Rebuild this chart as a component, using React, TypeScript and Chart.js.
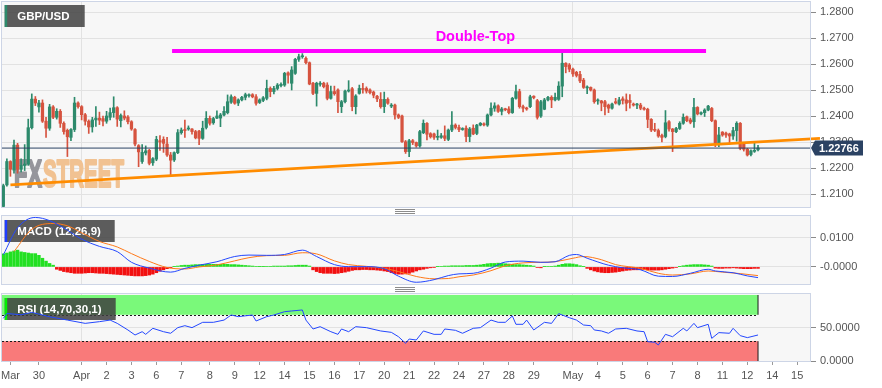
import React, { useEffect, useRef } from 'react';
import { Chart, registerables } from 'chart.js';

Chart.register(...registerables);

// ---------- DATA ----------
const pairLabel = 'GBP/USD';
const macdLabel = 'MACD (12,26,9)';
const rsiLabel = 'RSI (14,70,30,1)';

const opens = [
  1.2052,1.2135,1.2225,1.2192,1.2288,1.2195,1.2210,1.2215,1.2355,1.2465,
  1.2435,1.2450,1.2380,1.2353,1.2435,1.2395,1.2418,1.2372,1.2345,1.2318,
  1.2348,1.2450,1.2436,1.2405,1.2380,1.2358,1.2385,1.2392,1.2390,1.2380,
  1.2395,1.2413,1.2432,1.2382,1.2400,1.2396,1.2378,1.2348,1.2286,1.2225,
  1.2258,1.2268,1.2220,1.2234,1.2305,1.2310,1.2292,1.2250,1.2231,1.2259,
  1.2336,1.2348,1.2350,1.2350,1.2340,1.2342,1.2314,1.2356,1.2391,1.2374,
  1.2392,1.2392,1.2404,1.2413,1.2453,1.2472,1.2450,1.2462,1.2472,1.2478,
  1.2482,1.2474,1.2452,1.2460,1.2468,1.2506,1.2494,1.2506,1.2517,1.2519,
  1.2566,1.2526,1.2564,1.2618,1.2628,1.2622,1.2605,1.2526,1.2487,1.2522,
  1.2526,1.2519,1.2468,1.2494,1.2500,1.2436,1.2455,1.2496,1.2505,1.2436,
  1.2487,1.2506,1.2506,1.2500,1.2492,1.2476,1.2464,1.2436,1.2464,1.2438,
  1.2442,1.2404,1.2400,1.2301,1.2263,1.2305,1.2298,1.2285,1.2336,1.2372,
  1.2332,1.2331,1.2318,1.2318,1.2324,1.2310,1.2346,1.2365,1.2356,1.2348,
  1.2353,1.2321,1.2353,1.2333,1.2365,1.2370,1.2365,1.2404,1.2430,1.2439,
  1.2418,1.2428,1.2427,1.2413,1.2468,1.2494,1.2436,1.2430,1.2436,1.2476,
  1.2459,1.2400,1.2426,1.2462,1.2472,1.2462,1.2464,1.2515,1.2603,1.2596,
  1.2580,1.2568,1.2560,1.2538,1.2508,1.2510,1.2500,1.2458,1.2458,1.2455,
  1.2442,1.2430,1.2455,1.2446,1.2466,1.2462,1.2460,1.2446,1.2442,1.2442,
  1.2430,1.2426,1.2387,1.2348,1.2344,1.2325,1.2321,1.2378,1.2350,1.2340,
  1.2352,1.2372,1.2397,1.2385,1.2378,1.2433,1.2408,1.2413,1.2423,1.2429,
  1.2382,1.2295,1.2338,1.2334,1.2331,1.2323,1.2344,1.2372,1.2295,1.2272,
  1.2252,1.2264,1.2270,
];
const highs = [
  1.2138,1.2235,1.2228,1.2307,1.2295,1.2235,1.2290,1.2388,1.2485,1.2475,
  1.2460,1.2462,1.2395,1.2445,1.2440,1.2428,1.2425,1.2378,1.2350,1.2352,
  1.2472,1.2455,1.2440,1.2410,1.2385,1.2395,1.2436,1.2415,1.2400,1.2418,
  1.2430,1.2474,1.2436,1.2408,1.2420,1.2402,1.2382,1.2352,1.2290,1.2290,
  1.2285,1.2272,1.2240,1.2322,1.2325,1.2320,1.2318,1.2260,1.2262,1.2348,
  1.2354,1.2384,1.2362,1.2352,1.2345,1.2345,1.2380,1.2417,1.2400,1.2395,
  1.2420,1.2410,1.2436,1.2481,1.2481,1.2476,1.2466,1.2476,1.2488,1.2485,
  1.2486,1.2482,1.2466,1.2475,1.2538,1.2512,1.2514,1.2525,1.2528,1.2568,
  1.2570,1.2590,1.2622,1.2638,1.2640,1.2628,1.2608,1.2530,1.2530,1.2532,
  1.2530,1.2528,1.2515,1.2515,1.2505,1.2460,1.2500,1.2536,1.2510,1.2482,
  1.2519,1.2526,1.2512,1.2505,1.2496,1.2480,1.2490,1.2492,1.2470,1.2448,
  1.2446,1.2408,1.2404,1.2306,1.2310,1.2310,1.2300,1.2345,1.2385,1.2375,
  1.2336,1.2334,1.2346,1.2333,1.2362,1.2350,1.2417,1.2370,1.2365,1.2355,
  1.2362,1.2356,1.2366,1.2368,1.2375,1.2374,1.2408,1.2451,1.2451,1.2443,
  1.2433,1.2430,1.2436,1.2472,1.2519,1.2503,1.2442,1.2434,1.2480,1.2478,
  1.2464,1.2460,1.2468,1.2476,1.2478,1.2488,1.2532,1.2641,1.2605,1.2602,
  1.2584,1.2572,1.2572,1.2545,1.2516,1.2512,1.2504,1.2466,1.2460,1.2460,
  1.2446,1.2450,1.2468,1.2472,1.2474,1.2485,1.2482,1.2450,1.2449,1.2449,
  1.2434,1.2430,1.2390,1.2372,1.2350,1.2330,1.2421,1.2382,1.2352,1.2356,
  1.2378,1.2408,1.2400,1.2392,1.2468,1.2436,1.2416,1.2428,1.2441,1.2433,
  1.2385,1.2356,1.2340,1.2338,1.2334,1.2356,1.2378,1.2375,1.2298,1.2276,
  1.2270,1.2295,1.2287,
];
const lows = [
  1.2048,1.2130,1.2168,1.2180,1.2180,1.2185,1.2190,1.2210,1.2350,1.2440,
  1.2415,1.2375,1.2318,1.2345,1.2390,1.2388,1.2356,1.2330,1.2244,1.2305,
  1.2340,1.2430,1.2385,1.2365,1.2333,1.2338,1.2360,1.2367,1.2362,1.2372,
  1.2385,1.2395,1.2360,1.2358,1.2385,1.2370,1.2345,1.2285,1.2205,1.2218,
  1.2250,1.2212,1.2210,1.2228,1.2268,1.2260,1.2245,1.2167,1.2225,1.2255,
  1.2330,1.2318,1.2345,1.2330,1.2312,1.2290,1.2310,1.2350,1.2365,1.2368,
  1.2390,1.2359,1.2400,1.2408,1.2448,1.2445,1.2440,1.2458,1.2462,1.2472,
  1.2470,1.2442,1.2448,1.2455,1.2462,1.2474,1.2485,1.2500,1.2512,1.2514,
  1.2526,1.2500,1.2560,1.2610,1.2622,1.2600,1.2520,1.2482,1.2438,1.2515,
  1.2508,1.2462,1.2465,1.2480,1.2413,1.2413,1.2450,1.2492,1.2420,1.2408,
  1.2484,1.2488,1.2488,1.2485,1.2470,1.2455,1.2430,1.2413,1.2445,1.2432,
  1.2388,1.2390,1.2298,1.2256,1.2244,1.2290,1.2280,1.2280,1.2332,1.2308,
  1.2315,1.2310,1.2308,1.2314,1.2305,1.2305,1.2340,1.2350,1.2340,1.2345,
  1.2301,1.2301,1.2328,1.2328,1.2362,1.2362,1.2360,1.2400,1.2418,1.2414,
  1.2404,1.2420,1.2408,1.2410,1.2465,1.2430,1.2416,1.2422,1.2432,1.2466,
  1.2388,1.2395,1.2424,1.2458,1.2432,1.2458,1.2460,1.2474,1.2566,1.2570,
  1.2552,1.2550,1.2528,1.2506,1.2486,1.2496,1.2449,1.2445,1.2420,1.2404,
  1.2413,1.2426,1.2446,1.2442,1.2446,1.2420,1.2430,1.2438,1.2428,1.2424,
  1.2422,1.2355,1.2340,1.2340,1.2318,1.2300,1.2316,1.2342,1.2263,1.2336,
  1.2348,1.2368,1.2378,1.2370,1.2356,1.2404,1.2404,1.2398,1.2420,1.2378,
  1.2282,1.2282,1.2322,1.2318,1.2291,1.2310,1.2303,1.2270,1.2265,1.2246,
  1.2246,1.2260,1.2266,
];
const closes = [
  1.2132,1.2225,1.2195,1.2288,1.2195,1.2210,1.2215,1.2355,1.2465,1.2450,
  1.2450,1.2380,1.2353,1.2435,1.2395,1.2418,1.2372,1.2340,1.2320,1.2348,
  1.2450,1.2436,1.2405,1.2380,1.2358,1.2385,1.2392,1.2384,1.2380,1.2400,
  1.2413,1.2432,1.2388,1.2402,1.2392,1.2378,1.2350,1.2292,1.2262,1.2260,
  1.2266,1.2218,1.2236,1.2310,1.2300,1.2295,1.2250,1.2230,1.2259,1.2336,
  1.2346,1.2344,1.2352,1.2340,1.2316,1.2314,1.2353,1.2391,1.2372,1.2390,
  1.2400,1.2404,1.2418,1.2455,1.2474,1.2449,1.2462,1.2472,1.2482,1.2480,
  1.2474,1.2449,1.2462,1.2470,1.2506,1.2494,1.2506,1.2519,1.2522,1.2564,
  1.2557,1.2577,1.2618,1.2628,1.2630,1.2605,1.2523,1.2487,1.2526,1.2526,
  1.2513,1.2468,1.2494,1.2486,1.2455,1.2455,1.2496,1.2500,1.2436,1.2477,
  1.2506,1.2502,1.2496,1.2490,1.2480,1.2466,1.2436,1.2464,1.2449,1.2442,
  1.2404,1.2395,1.2301,1.2263,1.2305,1.2298,1.2285,1.2340,1.2372,1.2330,
  1.2320,1.2318,1.2320,1.2324,1.2314,1.2346,1.2365,1.2356,1.2348,1.2350,
  1.2321,1.2350,1.2331,1.2365,1.2372,1.2366,1.2404,1.2430,1.2439,1.2418,
  1.2427,1.2424,1.2413,1.2468,1.2494,1.2436,1.2430,1.2427,1.2474,1.2471,
  1.2395,1.2455,1.2462,1.2472,1.2462,1.2472,1.2515,1.2603,1.2590,1.2580,
  1.2562,1.2556,1.2535,1.2510,1.2512,1.2500,1.2455,1.2460,1.2450,1.2436,
  1.2430,1.2446,1.2450,1.2462,1.2460,1.2449,1.2452,1.2442,1.2446,1.2430,
  1.2426,1.2387,1.2346,1.2345,1.2323,1.2318,1.2374,1.2350,1.2340,1.2352,
  1.2372,1.2395,1.2382,1.2376,1.2433,1.2408,1.2413,1.2423,1.2438,1.2382,
  1.2295,1.2327,1.2327,1.2327,1.2323,1.2344,1.2372,1.2276,1.2272,1.2250,
  1.2266,1.2268,1.2277,
];

const lastPrice = 1.22766;

// x-axis day labels and the candle index each one sits at
const tickIdx = [2,10,22,29,36,43,50,58,65,72,79,86,93,100,107,114,121,128,135,142,149,160,167,174,181,188,195,202,209,216,223];
const tickLabels = ['Mar','30','Apr','2','3','6','7','8','9','12','14','15','16','17','20','21','22','24','27','28','29','May','4','5','6','7','8','11','12','14','15'];

const priceTicks = [1.21,1.22,1.23,1.24,1.25,1.26,1.27,1.28];
const macdTicks = [0, 0.01];
const macdTickLabels = ['-0.0000', '0.0100'];
const rsiTicks = [0, 50];
const rsiTickLabels = ['0.0000', '50.0000'];

// annotations
const trendIdx = [2, 229.4];
const trendVals = [1.2135, 1.2314];
const doubleTopIdx = [47.4, 197.4];
const doubleTopVals = [1.265, 1.265];
const doubleTopText = 'Double-Top';
const doubleTopTextIdx = 132.6;
const doubleTopTextPrice = 1.2689;

// MACD histogram, one bar per candle
const histVals = [
  0.0045,0.0048,0.0052,0.0055,0.0058,0.0052,0.0050,0.0048,0.0046,0.0046,0.0040,0.0030,0.0020,0.0012,0.0006,
  -0.0008,-0.0012,-0.0016,
  -0.0018,-0.0020,-0.0022,-0.0022,-0.0022,-0.0021,-0.0020,-0.0020,-0.0021,-0.0022,-0.0022,-0.0023,-0.0024,-0.0025,-0.0026,-0.0027,-0.0028,
  -0.0029,-0.0030,-0.0031,-0.0031,-0.0031,-0.0030,-0.0028,-0.0025,
  -0.0020,-0.0015,-0.0010,-0.0006,-0.0003,0.0001,0.0003,
  0.0005,0.0006,0.0006,0.0007,0.0008,0.0008,0.0009,0.0009,0.0009,0.0009,0.0009,0.0009,0.0009,0.0009,0.0008,0.0008,0.0007,0.0006,0.0005,0.0004,0.0003,
  0.0002,0.0001,0.0001,0.0002,0.0002,0.0003,0.0003,0.0003,0.0003,0.0004,0.0004,0.0005,0.0006,0.0006,0.0006,0.0003,
  -0.0010,-0.0016,-0.0020,-0.0022,-0.0022,-0.0022,-0.0023,-0.0022,-0.0020,-0.0018,-0.0015,-0.0012,
  -0.0010,-0.0010,-0.0009,-0.0009,-0.0010,-0.0010,-0.0011,-0.0012,-0.0014,-0.0016,
  -0.0020,-0.0023,-0.0025,-0.0025,-0.0024,-0.0022,-0.0018,-0.0014,-0.0010,
  -0.0008,-0.0005,-0.0003,-0.0001,0.0001,0.0002,
  0.0003,0.0003,0.0004,0.0004,0.0004,0.0004,0.0005,0.0005,0.0005,0.0006,0.0007,0.0009,
  0.0011,0.0012,0.0012,0.0013,0.0012,0.0011,0.0010,
  0.0009,0.0008,0.0008,0.0007,0.0006,0.0005,0.0003,
  -0.0002,-0.0003,
  0.0001,0.0002,0.0002,0.0003,
  0.0006,0.0009,0.0011,0.0011,0.0010,0.0008,
  0.0004,0.0001,
  -0.0005,-0.0010,-0.0014,-0.0017,-0.0019,-0.0020,-0.0020,-0.0019,-0.0018,-0.0016,-0.0014,-0.0012,
  -0.0011,-0.0010,-0.0010,-0.0009,-0.0009,-0.0010,-0.0011,-0.0011,-0.0011,-0.0010,-0.0008,-0.0006,-0.0004,-0.0002,0.0001,
  0.0004,0.0006,0.0007,0.0008,0.0008,0.0008,0.0007,0.0006,0.0003,
  -0.0004,-0.0005,-0.0005,-0.0004,-0.0004,-0.0003,-0.0004,-0.0005,-0.0006,-0.0006,-0.0006,-0.0005,-0.0005,
];

const macdIdx = [0,4,9,13,18,22,27,32,36,41,47,51,55,60,65,69,74,79,84,88,93,97,102,107,111,116,121,125,128,132,137,141,146,151,155,159,161,164,170,174,179,184,188,193,198,200,205,209,212];
const macdVals = [0.0042,0.0135,0.0171,0.0160,0.0127,0.0096,0.0071,0.0053,0.0016,-0.0004,-0.0018,-0.0005,0.0006,0.0018,0.0036,0.0041,0.0040,0.0043,0.0058,0.0036,0.0008,0.0001,0.0001,-0.0006,-0.0032,-0.0053,-0.0044,-0.0030,-0.0024,-0.0022,-0.0004,0.0017,0.0020,0.0016,0.0018,0.0040,0.0043,0.0030,0.0006,-0.0003,-0.0010,-0.0032,-0.0033,-0.0022,-0.0008,-0.0014,-0.0020,-0.0031,-0.0037];

const signalIdx = [3,8,14,18,22,27,32,36,41,46,51,55,60,65,69,74,79,84,88,93,97,102,107,111,116,121,125,128,132,137,141,146,151,155,160,163,168,172,179,184,188,193,198,202,207,212];
const signalVals = [0.0053,0.0130,0.0150,0.0142,0.0118,0.0088,0.0069,0.0046,0.0019,-0.0002,-0.0007,0.0000,0.0007,0.0021,0.0032,0.0039,0.0040,0.0049,0.0045,0.0021,0.0008,0.0002,-0.0005,-0.0016,-0.0033,-0.0041,-0.0040,-0.0034,-0.0028,-0.0013,0.0004,0.0014,0.0016,0.0018,0.0030,0.0036,0.0025,0.0008,-0.0005,-0.0022,-0.0028,-0.0024,-0.0014,-0.0018,-0.0023,-0.0030];

const rsiIdx = [0,1,5,8,13,18,23,27,30,32,35,37,39,40,42,45,47,49,51,53,56,59,62,64,66,70,71,74,76,79,81,84,85,87,89,92,94,95,97,99,102,106,109,111,113,114,116,118,121,123,124,127,129,131,132,134,137,139,141,143,144,146,147,149,152,154,156,159,161,163,165,166,168,170,172,175,178,180,181,183,184,186,188,191,192,194,195,198,199,201,204,205,207,209,212];
const rsiVals = [64.6,72,70,73.7,67,62,57,59.6,62,57,47,39.4,44.4,40.4,49.5,44.4,42,50.5,53.5,50.5,58.6,58.6,62,69.7,67.2,69.7,60.6,67.2,69.7,74.7,75.8,77.3,62,48.5,52,44.4,40.4,48.5,44.4,52,50.5,45.5,43.4,36.8,26.8,33.3,31.8,45.5,40.4,40.4,48.5,46.5,42,47,49.5,50.5,62,58.6,58.6,68.2,55.6,55.6,62,47,58.6,57,71.7,65.6,62,54.5,53.5,47,45.5,42,48.5,49.5,45.5,44.4,29.3,28.3,24.2,40.4,36.8,49.5,45.5,57,50.5,55.6,34.3,43,42,49.5,38.4,35.4,39.4];

const rsiUpper = 70;
const rsiLower = 30;
const rsiBandTop = 100;

// ---------- STYLE ----------
const UP = '#2d8a6c';
const DOWN = '#d6533f';
const NAVY = '#2b4263';
const FONT = "'Liberation Sans', Arial, Helvetica, sans-serif";
const X_MIN = -0.37;
const X_MAX = 226.6;
const PANEL_BG = '#f7f7f7';
const PANEL_BORDER = '#cdd5e6';
const GRID = '#e2e2e2';

const zeroPad = (s: any) => {
  s.paddingLeft = 0; s.paddingRight = 0; s.paddingTop = 0; s.paddingBottom = 0;
};

function xScale(show: boolean) {
  return {
    type: 'linear', min: X_MIN, max: X_MAX, offset: false, display: true,
    afterBuildTicks: (s: any) => { s.ticks = tickIdx.map((v) => ({ value: v })); },
    afterFit: (s: any) => { s.height = show ? 27 : 0; zeroPad(s); },
    border: { display: false },
    grid: {
      offset: false,
      color: (c: any) => {
        const l = tickLabels[c.index];
        return l === 'Apr' || l === 'May' ? GRID : 'rgba(0,0,0,0)';
      },
      drawTicks: show, tickLength: 4, tickColor: '#9a9a9a', lineWidth: 1,
    },
    ticks: {
      display: show, autoSkip: false, maxRotation: 0, minRotation: 0, padding: 4,
      color: '#555', font: { family: FONT, size: 11 },
      callback: (_v: any, i: number) => tickLabels[i],
    },
  };
}

function yScale(min: number, max: number, values: number[], labels: string[]) {
  return {
    type: 'linear', position: 'right', min, max, beginAtZero: false,
    afterBuildTicks: (s: any) => { s.ticks = values.map((v) => ({ value: v })); },
    afterFit: (s: any) => { s.width = 72; zeroPad(s); },
    border: { display: false },
    grid: { color: GRID, drawTicks: true, tickLength: 6, tickColor: '#8a8a8a' },
    ticks: {
      padding: 4, color: '#555', font: { family: FONT, size: 11 },
      callback: (_v: any, i: number) => labels[i],
    },
  };
}

function drawPanelBg(chart: any) {
  const { ctx, chartArea: a } = chart;
  ctx.save();
  ctx.fillStyle = PANEL_BG;
  ctx.fillRect(a.left, a.top, a.right - a.left, a.bottom - a.top);
  ctx.restore();
}

function drawPanelBorder(chart: any) {
  const { ctx, chartArea: a } = chart;
  ctx.save();
  ctx.strokeStyle = PANEL_BORDER;
  ctx.lineWidth = 1;
  ctx.strokeRect(a.left - 0.5, a.top - 0.5, a.right - a.left + 1, a.bottom - a.top + 1);
  ctx.restore();
}

function drawLabelBox(ctx: any, x: number, y: number, w: number, h: number, accent: string, text: string) {
  ctx.save();
  ctx.fillStyle = 'rgba(62,62,62,0.84)';
  ctx.fillRect(x, y, w, h);
  ctx.fillStyle = accent;
  ctx.fillRect(x, y, 2.5, h);
  ctx.fillStyle = '#ffffff';
  ctx.font = `bold 11.5px ${FONT}`;
  ctx.textAlign = 'left';
  ctx.textBaseline = 'middle';
  ctx.fillText(text, x + 12.5, y + h / 2 + 0.5);
  ctx.restore();
}

function drawHandle(ctx: any, cx: number, y: number) {
  ctx.save();
  ctx.fillStyle = '#8c8c8c';
  for (let k = 0; k < 3; k++) ctx.fillRect(cx - 10, y + k * 2, 20, 1);
  ctx.restore();
}

function drawSquashed(ctx: any, text: string, x: number, y: number, width: number, color: string) {
  const w0 = ctx.measureText(text).width;
  ctx.save();
  ctx.translate(x, y);
  ctx.scale(width / w0, 1);
  ctx.fillStyle = color;
  ctx.strokeStyle = color;
  ctx.lineWidth = 2.2;
  ctx.lineJoin = 'round';
  ctx.fillText(text, 0, 0);
  ctx.strokeText(text, 0, 0);
  ctx.restore();
}

const baseOptions = (padBottom: number) => ({
  animation: false,
  responsive: false,
  maintainAspectRatio: false,
  events: [],
  layout: { padding: { left: 2, top: 2, right: 0, bottom: padBottom } },
  plugins: { legend: { display: false }, tooltip: { enabled: false } },
});

// ---------- MAIN PRICE CHART ----------
const mainPlugin = {
  id: 'mainDecor',
  beforeDraw: (chart: any) => drawPanelBg(chart),
  beforeDatasetsDraw(chart: any) {
    const { ctx, chartArea: a } = chart;
    ctx.save();
    ctx.font = `bold 39px ${FONT}`;
    ctx.textBaseline = 'alphabetic';
    ctx.textAlign = 'left';
    drawSquashed(ctx, 'FX', a.left + 12, a.top + 184.5, 28, 'rgb(150,150,156)');
    drawSquashed(ctx, 'STREET', a.left + 41, a.top + 184.5, 81, 'rgb(241,194,146)');
    ctx.restore();
    drawLabelBox(ctx, a.left + 2.7, a.top + 3, 80, 22, UP, pairLabel);
  },
  afterDatasetsDraw(chart: any) {
    const { ctx, scales } = chart;
    const x = scales.x.getPixelForValue(doubleTopTextIdx);
    const y = scales.y.getPixelForValue(doubleTopTextPrice);
    ctx.save();
    ctx.fillStyle = '#ff00ff';
    ctx.font = `bold 14.5px ${FONT}`;
    ctx.textAlign = 'center';
    ctx.textBaseline = 'alphabetic';
    ctx.fillText(doubleTopText, x, y);
    ctx.restore();
  },
  afterDraw(chart: any) {
    const { ctx, chartArea: a, scales } = chart;
    drawPanelBorder(chart);
    const y = scales.y.getPixelForValue(lastPrice);
    ctx.save();
    ctx.fillStyle = NAVY;
    ctx.beginPath();
    ctx.moveTo(a.right + 1, y);
    ctx.lineTo(a.right + 5, y - 7.5);
    ctx.lineTo(a.right + 53, y - 7.5);
    ctx.lineTo(a.right + 53, y + 7.5);
    ctx.lineTo(a.right + 5, y + 7.5);
    ctx.closePath();
    ctx.fill();
    ctx.fillStyle = '#ffffff';
    ctx.font = `bold 11px ${FONT}`;
    ctx.textAlign = 'left';
    ctx.textBaseline = 'middle';
    ctx.fillText(lastPrice.toFixed(5), a.right + 9, y + 0.5);
    ctx.restore();
    drawHandle(ctx, 405, a.bottom + 2);
  },
};

function mainConfig(): any {
  const idx = closes.map((_, i) => i);
  const colorFor = (c: any) => (closes[c.dataIndex] >= opens[c.dataIndex] ? UP : DOWN);
  return {
    type: 'bar',
    data: {
      datasets: [
        {
          label: 'wick', data: idx.map((i) => ({ x: i, y: [lows[i], highs[i]] })),
          backgroundColor: colorFor, borderWidth: 0, barThickness: 1, grouped: false, order: 3,
        },
        {
          label: 'body', data: idx.map((i) => ({ x: i, y: [opens[i], closes[i]] })),
          backgroundColor: colorFor, borderWidth: 0, barThickness: 2.6, minBarLength: 1, grouped: false, order: 2,
        },
        {
          type: 'line', label: 'trend', data: trendIdx.map((x, i) => ({ x, y: trendVals[i] })),
          borderColor: '#ff8c00', borderWidth: 2.6, pointRadius: 0, fill: false, clip: false, order: 1,
        },
        {
          type: 'line', label: 'doubleTop', data: doubleTopIdx.map((x, i) => ({ x, y: doubleTopVals[i] })),
          borderColor: '#ff00ff', borderWidth: 4, pointRadius: 0, fill: false, order: 0,
        },
        {
          type: 'line', label: 'last', data: [{ x: X_MIN, y: lastPrice }, { x: X_MAX, y: lastPrice }],
          borderColor: NAVY, borderWidth: 1, pointRadius: 0, fill: false, order: 0,
        },
      ],
    },
    options: {
      ...baseOptions(7),
      scales: { x: xScale(false), y: yScale(1.205, 1.28385, priceTicks, priceTicks.map((v) => v.toFixed(4))) },
    },
    plugins: [mainPlugin],
  };
}

// ---------- MACD ----------
const macdPlugin = {
  id: 'macdDecor',
  beforeDraw: (chart: any) => drawPanelBg(chart),
  beforeDatasetsDraw(chart: any) {
    const { ctx, chartArea: a } = chart;
    drawLabelBox(ctx, a.left + 2.7, a.top + 4, 110, 22, '#1f3dff', macdLabel);
  },
  afterDraw(chart: any) {
    drawPanelBorder(chart);
    drawHandle(chart.ctx, 405, chart.chartArea.bottom + 3);
  },
};

function macdConfig(): any {
  return {
    type: 'bar',
    data: {
      datasets: [
        {
          label: 'hist', data: histVals.map((v, i) => ({ x: i, y: v })),
          backgroundColor: (c: any) => (histVals[c.dataIndex] >= 0 ? '#22e022' : '#f21010'),
          borderWidth: 0, barThickness: 2.8, grouped: false, order: 3,
        },
        {
          type: 'line', label: 'signal', data: signalIdx.map((x, i) => ({ x, y: signalVals[i] })),
          borderColor: '#ff7a1a', borderWidth: 1, pointRadius: 0, fill: false, tension: 0.4,
          cubicInterpolationMode: 'monotone', order: 1,
        },
        {
          type: 'line', label: 'macd', data: macdIdx.map((x, i) => ({ x, y: macdVals[i] })),
          borderColor: '#2448ff', borderWidth: 1, pointRadius: 0, fill: false, tension: 0.4,
          cubicInterpolationMode: 'monotone', order: 0,
        },
      ],
    },
    options: {
      ...baseOptions(8),
      scales: { x: xScale(false), y: yScale(-0.0059, 0.0176, macdTicks, macdTickLabels) },
    },
    plugins: [macdPlugin],
  };
}

// ---------- RSI ----------
const rsiPlugin = {
  id: 'rsiDecor',
  beforeDraw: (chart: any) => drawPanelBg(chart),
  beforeDatasetsDraw(chart: any) {
    const { ctx, chartArea: a, scales } = chart;
    const xr = scales.x.getPixelForValue(closes.length - 1);
    const yTop = scales.y.getPixelForValue(rsiBandTop);
    const yHi = scales.y.getPixelForValue(rsiUpper);
    const yLo = scales.y.getPixelForValue(rsiLower);
    const y0 = scales.y.getPixelForValue(0);
    ctx.save();
    ctx.fillStyle = 'rgb(122,249,122)';
    ctx.fillRect(a.left, yTop, xr - a.left, yHi - yTop);
    ctx.fillStyle = 'rgb(249,122,122)';
    ctx.fillRect(a.left, yLo, xr - a.left, y0 - yLo);
    ctx.strokeStyle = '#1a1a1a';
    ctx.lineWidth = 1;
    ctx.setLineDash([2, 2]);
    ctx.beginPath();
    ctx.moveTo(a.left, Math.round(yHi) + 0.5);
    ctx.lineTo(xr, Math.round(yHi) + 0.5);
    ctx.moveTo(a.left, Math.round(yLo) + 0.5);
    ctx.lineTo(xr, Math.round(yLo) + 0.5);
    ctx.stroke();
    ctx.setLineDash([]);
    ctx.beginPath();
    ctx.moveTo(xr, yTop);
    ctx.lineTo(xr, yHi);
    ctx.moveTo(xr, yLo);
    ctx.lineTo(xr, y0);
    ctx.stroke();
    ctx.restore();
    drawLabelBox(ctx, a.left + 2.7, a.top + 4, 111, 22, '#00f000', rsiLabel);
  },
  afterDraw: (chart: any) => drawPanelBorder(chart),
};

function rsiConfig(): any {
  return {
    type: 'line',
    data: {
      datasets: [
        {
          label: 'rsi', data: rsiIdx.map((x, i) => ({ x, y: rsiVals[i] })),
          borderColor: '#2448ff', borderWidth: 1, pointRadius: 0, fill: false, tension: 0,
        },
      ],
    },
    options: {
      ...baseOptions(0),
      scales: { x: xScale(true), y: yScale(0, 101.5, rsiTicks, rsiTickLabels) },
    },
    plugins: [rsiPlugin],
  };
}

export default function App() {
  const mainRef = useRef<HTMLCanvasElement>(null);
  const macdRef = useRef<HTMLCanvasElement>(null);
  const rsiRef = useRef<HTMLCanvasElement>(null);

  useEffect(() => {
    const charts = [
      new Chart(mainRef.current as HTMLCanvasElement, mainConfig()),
      new Chart(macdRef.current as HTMLCanvasElement, macdConfig()),
      new Chart(rsiRef.current as HTMLCanvasElement, rsiConfig()),
    ];
    return () => charts.forEach((c) => c.destroy());
  }, []);

  return (
    <div style={{ position: 'absolute', left: 0, top: 0, width: 882, height: 388, background: '#ffffff', overflow: 'hidden' }}>
      <canvas ref={mainRef} width={882} height={214} style={{ position: 'absolute', left: 0, top: 0 }} />
      <canvas ref={macdRef} width={882} height={78} style={{ position: 'absolute', left: 0, top: 214 }} />
      <canvas ref={rsiRef} width={882} height={96} style={{ position: 'absolute', left: 0, top: 292 }} />
    </div>
  );
}
